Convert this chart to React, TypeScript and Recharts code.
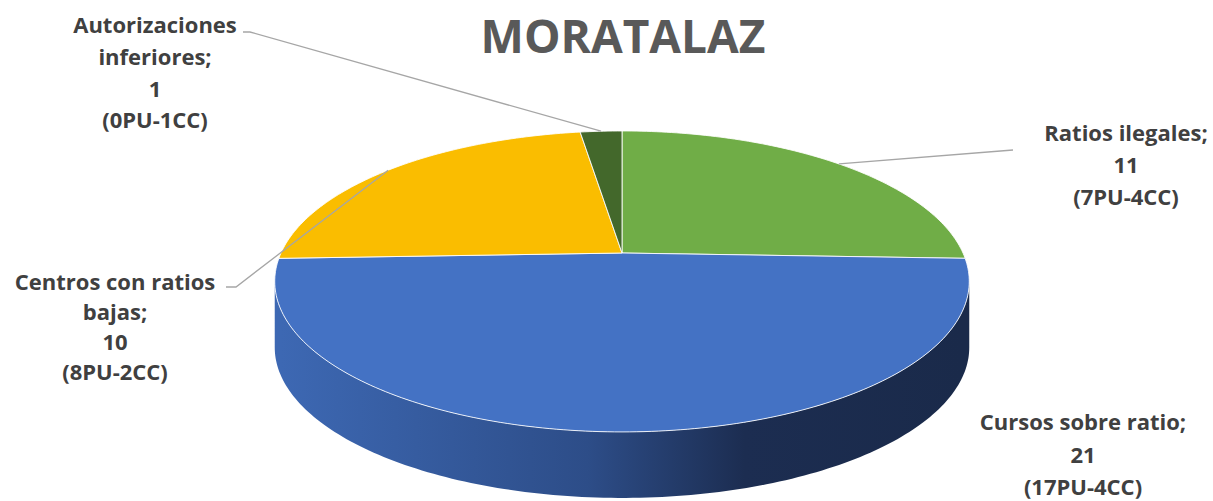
import { PieChart, Pie } from 'recharts';

// data
const categories = ['Ratios ilegales', 'Cursos sobre ratio', 'Centros con ratios bajas', 'Autorizaciones inferiores'];
const totals = [11, 21, 10, 1];
const puCounts = [7, 17, 8, 0];
const ccCounts = [4, 4, 2, 1];

const COLORS = ['#70AD47', '#4472C4', '#FABD00', '#43682B'];
const TEXT = '#404040';
const LINE = '#A6A6A6';
const FONT = '"Open Sans", "Noto Sans", sans-serif';
const FONT_SIZE = 22;

// fake 3D: the pie's circle is projected with a tilt + perspective
const CX = 622;
const CY = 253;
const RX = 341;
const ASPECT = 0.4255;
const TILT = 0.189;
const DEPTH = 66;

// label placement (Excel put them by hand)
const LABEL_LAYOUT = [
  { x: 1126, y: [133, 165, 197], wrap: 9, leader: true, path: [[1013, 150]] },
  { x: 1083, y: [422, 455, 487], wrap: 9, leader: false, path: [] },
  { x: 115, y: [282, 312, 342, 372], wrap: 3, leader: true, path: [[236, 287], [226, 287]] },
  { x: 155, y: [25, 57, 89, 120], wrap: 1, leader: true, path: [[250, 32], [243, 32]] },
];

const data = categories.map((name, i) => ({ name, value: totals[i], pu: puCounts[i], cc: ccCounts[i] }));

function project(cx: number, cy: number, r: number, angle: number, frac = 1) {
  const a = (angle * Math.PI) / 180;
  const u = frac * Math.cos(a);
  const v = frac * Math.sin(a);
  const w = 1 + TILT * v;
  return { x: cx + (r * u) / w, y: cy - (r * ASPECT * v) / w };
}

function arcPoints(cx: number, cy: number, r: number, a1: number, a2: number, dy = 0) {
  const n = Math.max(2, Math.ceil(Math.abs(a2 - a1)));
  const pts: string[] = [];
  for (let i = 0; i <= n; i++) {
    const p = project(cx, cy, r, a1 + ((a2 - a1) * i) / n);
    pts.push(`${p.x.toFixed(2)},${(p.y + dy).toFixed(2)}`);
  }
  return pts;
}

// part of the rim that faces the viewer
const EDGE = (Math.asin(TILT) * 180) / Math.PI;
const FRONT = [-180 + EDGE, -EDGE];

const renderSlice = (props: any) => {
  const { cx, cy, outerRadius, startAngle, endAngle, index, payload } = props;
  const color = COLORS[index % COLORS.length];
  const lo = Math.min(startAngle, endAngle);
  const hi = Math.max(startAngle, endAngle);

  let side = null;
  for (const shift of [0, -360]) {
    const s1 = Math.max(lo, FRONT[0] + shift);
    const s2 = Math.min(hi, FRONT[1] + shift);
    if (s2 > s1) {
      const top = arcPoints(cx, cy, outerRadius, s1, s2);
      const bottom = arcPoints(cx, cy, outerRadius, s2, s1, DEPTH);
      side = (
        <g>
          <defs>
            <linearGradient id={`side${index}`} gradientUnits="userSpaceOnUse" x1={cx - outerRadius} y1={0} x2={cx + outerRadius} y2={0}>
              <stop offset="0%" stopColor="#3D68B3" />
              <stop offset="45%" stopColor="#2D4D88" />
              <stop offset="68%" stopColor="#1C2D51" />
              <stop offset="100%" stopColor="#1A2A4A" />
            </linearGradient>
          </defs>
          <path d={`M${top.join(' L')} L${bottom.join(' L')} Z`} fill={`url(#side${index})`} />
        </g>
      );
    }
  }

  const rim = arcPoints(cx, cy, outerRadius, startAngle, endAngle);
  const face = `M${cx},${cy} L${rim.join(' L')} Z`;

  const layout = LABEL_LAYOUT[index];
  const words = `${payload.name};`.split(' ');
  const nameLines: string[] = [];
  for (let i = 0; i < words.length; i += layout.wrap) nameLines.push(words.slice(i, i + layout.wrap).join(' '));
  const lines = [...nameLines, String(payload.value), `(${payload.pu}PU-${payload.cc}CC)`];

  let leader = null;
  if (layout.leader) {
    const p = project(cx, cy, outerRadius, (startAngle + endAngle) / 2);
    const pts = [[p.x, p.y], ...layout.path].map((q) => q.join(',')).join(' ');
    leader = <polyline points={pts} fill="none" stroke={LINE} strokeWidth={1.3} />;
  }

  return (
    <g key={`slice-${index}`}>
      {side}
      <path d={face} fill={color} stroke="#FFFFFF" strokeOpacity={0.85} strokeWidth={1} strokeLinejoin="round" />
      {leader}
      {lines.map((t, i) => (
        <text
          key={i}
          x={layout.x}
          y={layout.y[i] + FONT_SIZE * 0.36}
          textAnchor="middle"
          fontFamily={FONT}
          fontWeight={700}
          fontSize={FONT_SIZE}
          fill={TEXT}
        >
          {t}
        </text>
      ))}
    </g>
  );
};

export default function App() {
  return (
    <div style={{ position: 'absolute', left: 0, top: 0, width: 1213, height: 501, background: '#FFFFFF', overflow: 'hidden' }}>
      <div
        style={{
          position: 'absolute',
          left: 0,
          top: 12,
          width: 1246,
          textAlign: 'center',
          fontFamily: FONT,
          fontWeight: 700,
          fontSize: 46,
          lineHeight: '46px',
          color: '#595959',
        }}
      >
        MORATALAZ
      </div>
      <PieChart width={1213} height={501} margin={{ top: 0, right: 0, bottom: 0, left: 0 }}>
        <Pie
          data={data}
          dataKey="value"
          nameKey="name"
          cx={CX}
          cy={CY}
          outerRadius={RX}
          startAngle={90}
          endAngle={-270}
          fill="none"
          stroke="none"
          labelLine={false}
          label={renderSlice}
          isAnimationActive={false}
        />
      </PieChart>
    </div>
  );
}
